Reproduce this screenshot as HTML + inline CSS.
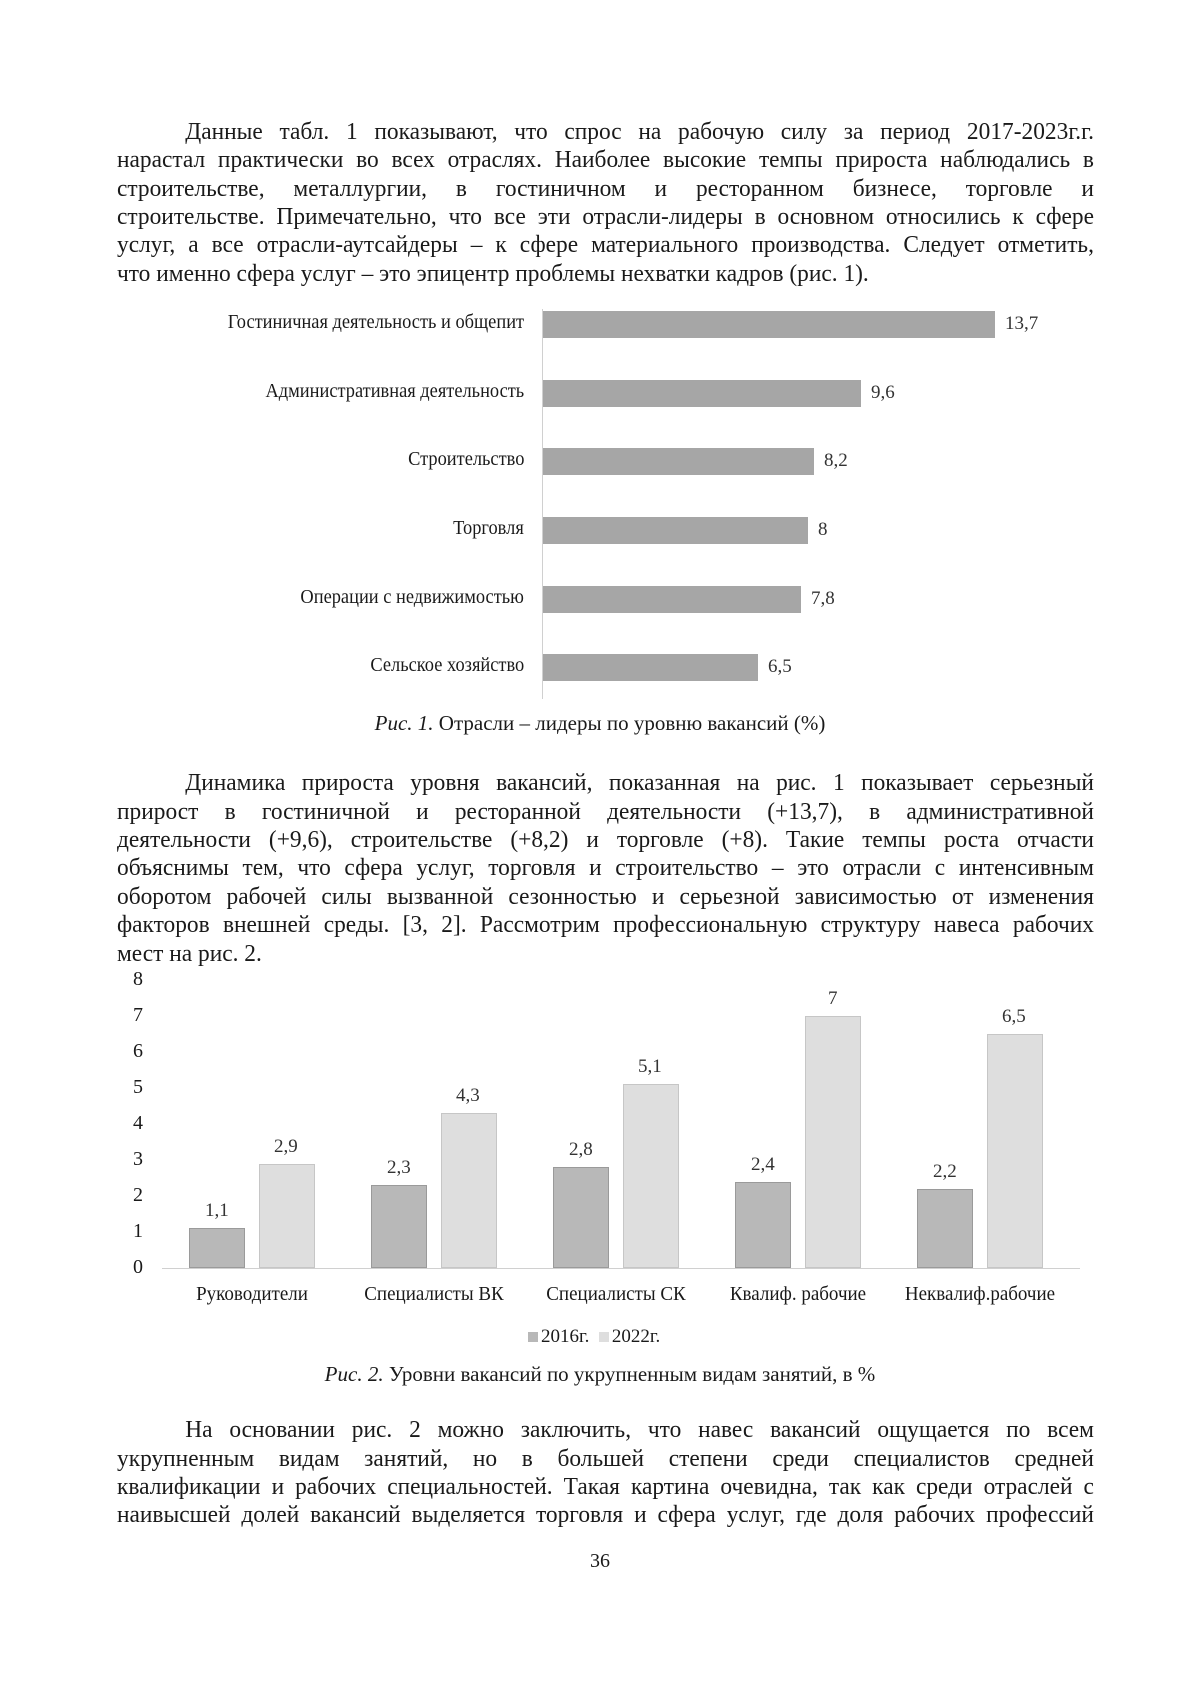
<!DOCTYPE html>
<html><head><meta charset="utf-8"><style>
body{margin:0;width:1200px;height:1697px;background:#fff;position:relative;overflow:hidden;font-family:"Liberation Serif",serif;color:#1a1a1a}
.l{position:absolute;left:117px;width:1002px;font-size:24px;line-height:28px;transform:scaleX(0.975);transform-origin:0 0;text-align:justify;text-align-last:justify;white-space:nowrap}
.j{white-space:normal}
.last{text-align-last:left}
.a{position:absolute;white-space:nowrap}
.cl{font-size:20px;transform:scaleX(0.92);transform-origin:100% 50%;text-align:right;right:676px}
.bar{position:absolute;background:#a6a6a6}
.v{position:absolute;font-size:19px;color:#333}
.d{position:absolute;background:#b8b8b8;border:1px solid #9a9a9a;box-sizing:border-box}
.g{position:absolute;background:#dedede;border:1px solid #c6c6c6;box-sizing:border-box}
.yl{position:absolute;left:130px;font-size:20px;width:16px;text-align:center}
.cat{position:absolute;font-size:20px;width:180px;text-align:center;top:1283px;transform:scaleX(0.95)}
</style></head><body>
<div class="l j" style="top:118px;text-indent:70px">Данные табл. 1 показывают, что спрос на рабочую силу за период 2017-2023г.г.</div>
<div class="l j" style="top:146px">нарастал практически во всех отраслях. Наиболее высокие темпы прироста наблюдались в</div>
<div class="l j" style="top:175px">строительстве, металлургии, в гостиничном и ресторанном бизнесе, торговле и</div>
<div class="l j" style="top:203px">строительстве. Примечательно, что все эти отрасли-лидеры в основном относились к сфере</div>
<div class="l j" style="top:231px">услуг, а все отрасли-аутсайдеры – к сфере материального производства. Следует отметить,</div>
<div class="l last" style="top:260px">что именно сфера услуг – это эпицентр проблемы нехватки кадров (рис. 1).</div>

<div style="position:absolute;left:542px;top:309px;width:1px;height:390px;background:#d0d0d0"></div>
<div class="a cl" style="top:311px">Гостиничная деятельность и общепит</div>
<div class="bar" style="left:543px;top:311px;width:452px;height:27px"></div><div class="v" style="left:1005px;top:313px">13,7</div>
<div class="a cl" style="top:380px">Административная деятельность</div>
<div class="bar" style="left:543px;top:380px;width:318px;height:27px"></div><div class="v" style="left:871px;top:382px">9,6</div>
<div class="a cl" style="top:448px">Строительство</div>
<div class="bar" style="left:543px;top:448px;width:271px;height:27px"></div><div class="v" style="left:824px;top:450px">8,2</div>
<div class="a cl" style="top:517px">Торговля</div>
<div class="bar" style="left:543px;top:517px;width:265px;height:27px"></div><div class="v" style="left:818px;top:519px">8</div>
<div class="a cl" style="top:586px">Операции с недвижимостью</div>
<div class="bar" style="left:543px;top:586px;width:258px;height:27px"></div><div class="v" style="left:811px;top:588px">7,8</div>
<div class="a cl" style="top:654px">Сельское хозяйство</div>
<div class="bar" style="left:543px;top:654px;width:215px;height:27px"></div><div class="v" style="left:768px;top:656px">6,5</div>
<div class="a" style="left:0;width:1200px;text-align:center;top:711px;font-size:21px"><i>Рис. 1.</i> Отрасли – лидеры по уровню вакансий (%)</div>

<div class="l j" style="top:769px;text-indent:70px">Динамика прироста уровня вакансий, показанная на рис. 1 показывает серьезный</div>
<div class="l j" style="top:798px">прирост в гостиничной и ресторанной деятельности (+13,7), в административной</div>
<div class="l j" style="top:826px">деятельности (+9,6), строительстве (+8,2) и торговле (+8). Такие темпы роста отчасти</div>
<div class="l j" style="top:854px">объяснимы тем, что сфера услуг, торговля и строительство – это отрасли с интенсивным</div>
<div class="l j" style="top:883px">оборотом рабочей силы вызванной сезонностью и серьезной зависимостью от изменения</div>
<div class="l j" style="top:911px">факторов внешней среды. [3, 2]. Рассмотрим профессиональную структуру навеса рабочих</div>
<div class="l last" style="top:940px">мест на рис. 2.</div>

<div class="yl" style="top:968px">8</div><div class="yl" style="top:1004px">7</div><div class="yl" style="top:1040px">6</div><div class="yl" style="top:1076px">5</div><div class="yl" style="top:1112px">4</div><div class="yl" style="top:1148px">3</div><div class="yl" style="top:1184px">2</div><div class="yl" style="top:1220px">1</div><div class="yl" style="top:1256px">0</div>
<div style="position:absolute;left:162px;top:1268px;width:918px;height:1px;background:#d0d0d0"></div>

<div class="d" style="left:189px;top:1228px;width:56px;height:40px"></div><div class="v" style="left:205px;top:1200px">1,1</div>
<div class="g" style="left:259px;top:1164px;width:56px;height:104px"></div><div class="v" style="left:274px;top:1136px">2,9</div>
<div class="d" style="left:371px;top:1185px;width:56px;height:83px"></div><div class="v" style="left:387px;top:1157px">2,3</div>
<div class="g" style="left:441px;top:1113px;width:56px;height:155px"></div><div class="v" style="left:456px;top:1085px">4,3</div>
<div class="d" style="left:553px;top:1167px;width:56px;height:101px"></div><div class="v" style="left:569px;top:1139px">2,8</div>
<div class="g" style="left:623px;top:1084px;width:56px;height:184px"></div><div class="v" style="left:638px;top:1056px">5,1</div>
<div class="d" style="left:735px;top:1182px;width:56px;height:86px"></div><div class="v" style="left:751px;top:1154px">2,4</div>
<div class="g" style="left:805px;top:1016px;width:56px;height:252px"></div><div class="v" style="left:828px;top:988px">7</div>
<div class="d" style="left:917px;top:1189px;width:56px;height:79px"></div><div class="v" style="left:933px;top:1161px">2,2</div>
<div class="g" style="left:987px;top:1034px;width:56px;height:234px"></div><div class="v" style="left:1002px;top:1006px">6,5</div>

<div class="cat" style="left:162px">Руководители</div>
<div class="cat" style="left:344px">Специалисты ВК</div>
<div class="cat" style="left:526px">Специалисты СК</div>
<div class="cat" style="left:708px">Квалиф. рабочие</div>
<div class="cat" style="left:890px">Неквалиф.рабочие</div>
<div class="a" style="left:528px;top:1326px;font-size:19px"><span style="display:inline-block;width:10px;height:10px;background:#b8b8b8;margin-right:3px"></span>2016г. &nbsp;<span style="display:inline-block;width:10px;height:10px;background:#dedede;margin-right:3px"></span>2022г.</div>
<div class="a" style="left:0;width:1200px;text-align:center;top:1362px;font-size:21px"><i>Рис. 2.</i> Уровни вакансий по укрупненным видам занятий, в %</div>

<div class="l j" style="top:1416px;text-indent:70px">На основании рис. 2 можно заключить, что навес вакансий ощущается по всем</div>
<div class="l j" style="top:1445px">укрупненным видам занятий, но в большей степени среди специалистов средней</div>
<div class="l j" style="top:1473px">квалификации и рабочих специальностей. Такая картина очевидна, так как среди отраслей с</div>
<div class="l j" style="top:1501px">наивысшей долей вакансий выделяется торговля и сфера услуг, где доля рабочих профессий</div>
<div class="a" style="left:0;width:1200px;text-align:center;top:1550px;font-size:20px">36</div>
</body></html>
